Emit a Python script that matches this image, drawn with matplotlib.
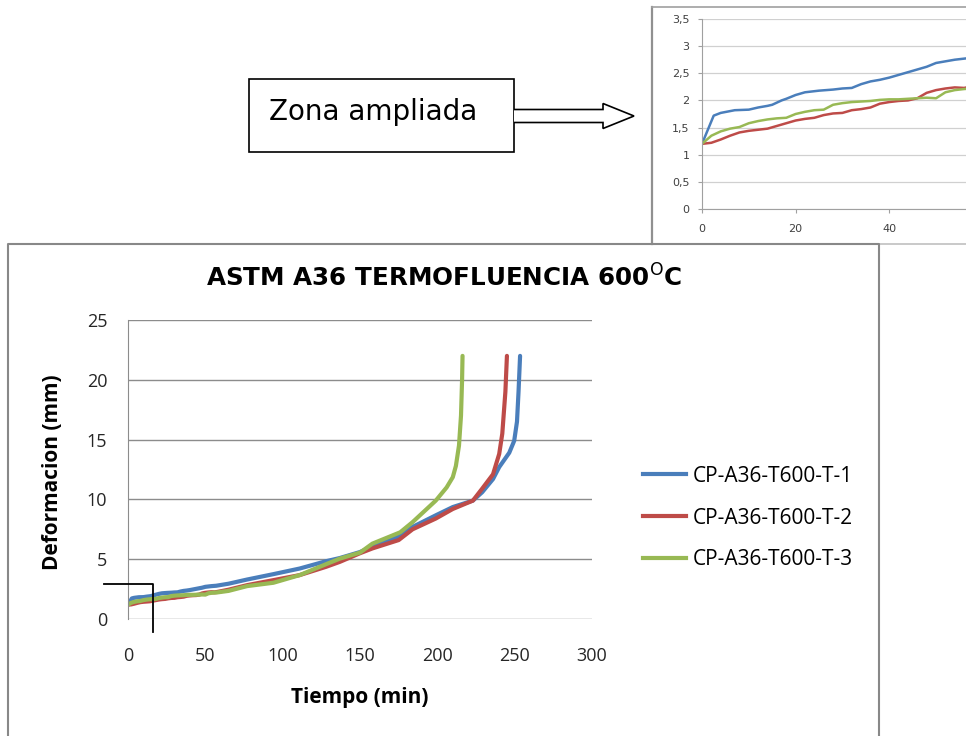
import matplotlib
matplotlib.use("Agg")
import matplotlib.pyplot as plt
from matplotlib.patches import Polygon, Rectangle
from matplotlib.lines import Line2D

# ---- creep test data: time (min) vs. deformation (mm) ----
t1 = [0, 2.5, 4, 7, 10, 12, 14, 15, 17, 18, 20, 22, 25, 28, 30, 32, 34, 36, 38,
      40, 42, 44, 46, 48, 50, 52, 54, 57, 65, 77, 94, 111, 128, 137, 150, 158,
      176, 184, 199, 210, 223, 229, 236, 240, 246.5, 249.7, 251.5, 252.5, 253.5]
d1 = [1.2, 1.72, 1.77, 1.82, 1.83, 1.87, 1.9, 1.92, 2.0, 2.03, 2.1, 2.15, 2.18,
      2.2, 2.22, 2.23, 2.3, 2.35, 2.38, 2.42, 2.47, 2.52, 2.57, 2.62, 2.69, 2.72,
      2.75, 2.78, 2.95, 3.3, 3.75, 4.22, 4.83, 5.1, 5.6, 6.05, 6.95, 7.7, 8.67,
      9.36, 9.9, 10.6, 11.7, 12.7, 13.9, 14.9, 16.5, 19.0, 22.0]

t2 = [0, 2, 4, 6, 8, 10, 12, 14, 16, 18, 20, 22, 24, 26, 28, 30, 32, 34, 36, 38,
      40, 42, 44, 46, 48, 50, 52, 54, 56, 57.6, 65, 77, 94, 111, 128, 137, 150,
      158, 175, 184, 199, 210, 223, 229, 236, 240, 242, 244, 245]
d2 = [1.2, 1.22, 1.28, 1.35, 1.41, 1.44, 1.46, 1.48, 1.53, 1.58, 1.63, 1.66,
      1.68, 1.73, 1.76, 1.77, 1.82, 1.84, 1.87, 1.94, 1.97, 1.99, 2.0, 2.04,
      2.14, 2.19, 2.22, 2.24, 2.23, 2.26, 2.45, 2.83, 3.25, 3.67, 4.36, 4.78,
      5.5, 5.9, 6.6, 7.5, 8.4, 9.2, 9.9, 10.9, 12.1, 13.8, 15.5, 19.0, 22.0]

t3 = [0, 2, 4, 6, 8, 10, 12, 14, 16, 18, 20, 22, 24, 26, 28, 30, 32, 34, 36, 38,
      40, 42, 44, 46, 48, 50, 52, 54, 56, 57.6, 65, 77, 94, 111, 128, 137, 150,
      158, 176, 184, 199, 206, 210, 212, 214, 215.3, 216, 216.3]
d3 = [1.2, 1.35, 1.43, 1.48, 1.51, 1.58, 1.62, 1.65, 1.67, 1.68, 1.75, 1.79,
      1.82, 1.83, 1.92, 1.95, 1.97, 1.98, 1.99, 2.01, 2.02, 2.02, 2.03, 2.04,
      2.05, 2.04, 2.15, 2.19, 2.21, 2.22, 2.35, 2.75, 3.03, 3.67, 4.58, 5.05,
      5.55, 6.3, 7.25, 8.1, 9.9, 11.0, 11.86, 12.8, 14.5, 17.0, 20.0, 22.0]

labels = ["CP-A36-T600-T-1", "CP-A36-T600-T-2", "CP-A36-T600-T-3"]
colors = ["#4A7EBB", "#BE4B48", "#98B954"]

x_ticks = [0, 50, 100, 150, 200, 250, 300]
y_ticks = [0, 5, 10, 15, 20, 25]
zoom_x_ticks = [0, 20, 40]
zoom_y_ticks = [0, 0.5, 1, 1.5, 2, 2.5, 3, 3.5]
zoom_y_labels = ["0", "0,5", "1", "1,5", "2", "2,5", "3", "3,5"]

W, H = 966, 736
CALIBRI_LIKE = "Open Sans"


def frac(x0, y0, x1, y1):
    """Pixel box (top-left origin) -> figure fraction rect."""
    return [x0 / W, 1 - y1 / H, (x1 - x0) / W, (y1 - y0) / H]


fig = plt.figure(figsize=(W / 100, H / 100), dpi=100)
fig.patch.set_facecolor("white")

series = [(t1, d1), (t2, d2), (t3, d3)]

# ---- main creep chart ----
ax = fig.add_axes(frac(128, 320, 592, 619))
for (t, d), c, lab in zip(series, colors, labels):
    ax.plot(t, d, color=c, lw=3.0, label=lab, solid_capstyle="round",
            solid_joinstyle="round")
ax.set_xlim(0, 300)
ax.set_ylim(0, 25)
ax.set_xticks(x_ticks)
ax.set_yticks(y_ticks)
ax.grid(axis="y", color="#8C8C8C", lw=1.0)
ax.set_axisbelow(True)
for s in ("top", "right", "bottom"):
    ax.spines[s].set_visible(False)
ax.spines["left"].set_color("#8C8C8C")
ax.tick_params(length=0, labelsize=13, colors="#262626")
ax.tick_params(axis="y", pad=15)
ax.tick_params(axis="x", pad=20)
for lbl in ax.get_xticklabels() + ax.get_yticklabels():
    lbl.set_fontfamily(CALIBRI_LIKE)
ax.set_xlabel("Tiempo (min)", fontsize=15, fontweight="bold",
              family=CALIBRI_LIKE, va="center")
ax.xaxis.set_label_coords(0.5, -0.264)
ax.set_ylabel("Deformacion (mm)", fontsize=15, fontweight="bold",
              family=CALIBRI_LIKE, va="center")
ax.yaxis.set_label_coords(-0.162, 0.49)

fig.text(206 / W, 1 - 287 / H, r"ASTM A36 TERMOFLUENCIA 600$^{\mathrm{O}}$C",
         fontsize=17.7, fontweight="bold", family="DejaVu Sans",
         ha="left", va="baseline")

handles = [Line2D([], [], color=c, lw=3.0) for c in colors]
fig.legend(handles, labels, loc="center left",
           bbox_to_anchor=(643 / W, 1 - 518 / H), frameon=False,
           prop={"family": CALIBRI_LIKE, "size": 15},
           handlelength=2.07, handletextpad=0.34, labelspacing=1.0,
           borderpad=0, borderaxespad=0)

# ---- enlarged early-time region ----
zx = fig.add_axes(frac(702, 19, 966, 209))
for (t, d), c in zip(series, colors):
    zx.plot(t, d, color=c, lw=1.8)
zx.set_xlim(0, 56.4)
zx.set_ylim(0, 3.5)
zx.set_xticks(zoom_x_ticks)
zx.set_yticks(zoom_y_ticks)
zx.set_yticklabels(zoom_y_labels)
zx.grid(axis="y", color="#D0D0D0", lw=0.9)
zx.set_axisbelow(True)
for s in ("top", "right"):
    zx.spines[s].set_visible(False)
for s in ("left", "bottom"):
    zx.spines[s].set_color("#A0A0A0")
zx.tick_params(length=3, color="#A0A0A0", labelsize=8, colors="#404040",
               pad=6)
zx.tick_params(axis="x", pad=8)

# ---- frames, callout box, arrow and marked region ----
ov = fig.add_axes([0, 0, 1, 1], zorder=10)
ov.set_xlim(0, W)
ov.set_ylim(H, 0)
ov.axis("off")
ov.patch.set_alpha(0)

# frame around the enlarged view
ov.plot([652, 652], [7, 244], color="#909090", lw=1.6)
ov.plot([652, 966], [7, 7], color="#A0A0A0", lw=1.2)
ov.plot([652, 966], [244, 244], color="#C0C0C0", lw=1.2)
# frame around the main chart
ov.plot([8, 8, 879, 879], [736, 244, 244, 736], color="#888888", lw=1.5)

# callout box with hollow arrow
ov.add_patch(Rectangle((249, 79), 265, 73, fill=False, ec="black", lw=1.2))
ov.text(269, 120, "Zona ampliada", fontsize=20, family="DejaVu Sans",
        ha="left", va="baseline")
arrow_pts = [(514, 109.5), (603, 109.5), (603, 103.5), (634, 116),
             (603, 128.5), (603, 122.5), (514, 122.5)]
ov.add_patch(Polygon(arrow_pts, closed=False, fc="white", ec="black", lw=1.2))

# bracket marking the enlarged region
ov.plot([104, 153, 153], [584, 584, 632], color="black", lw=1.3)

fig.savefig("out.png", dpi=100)
